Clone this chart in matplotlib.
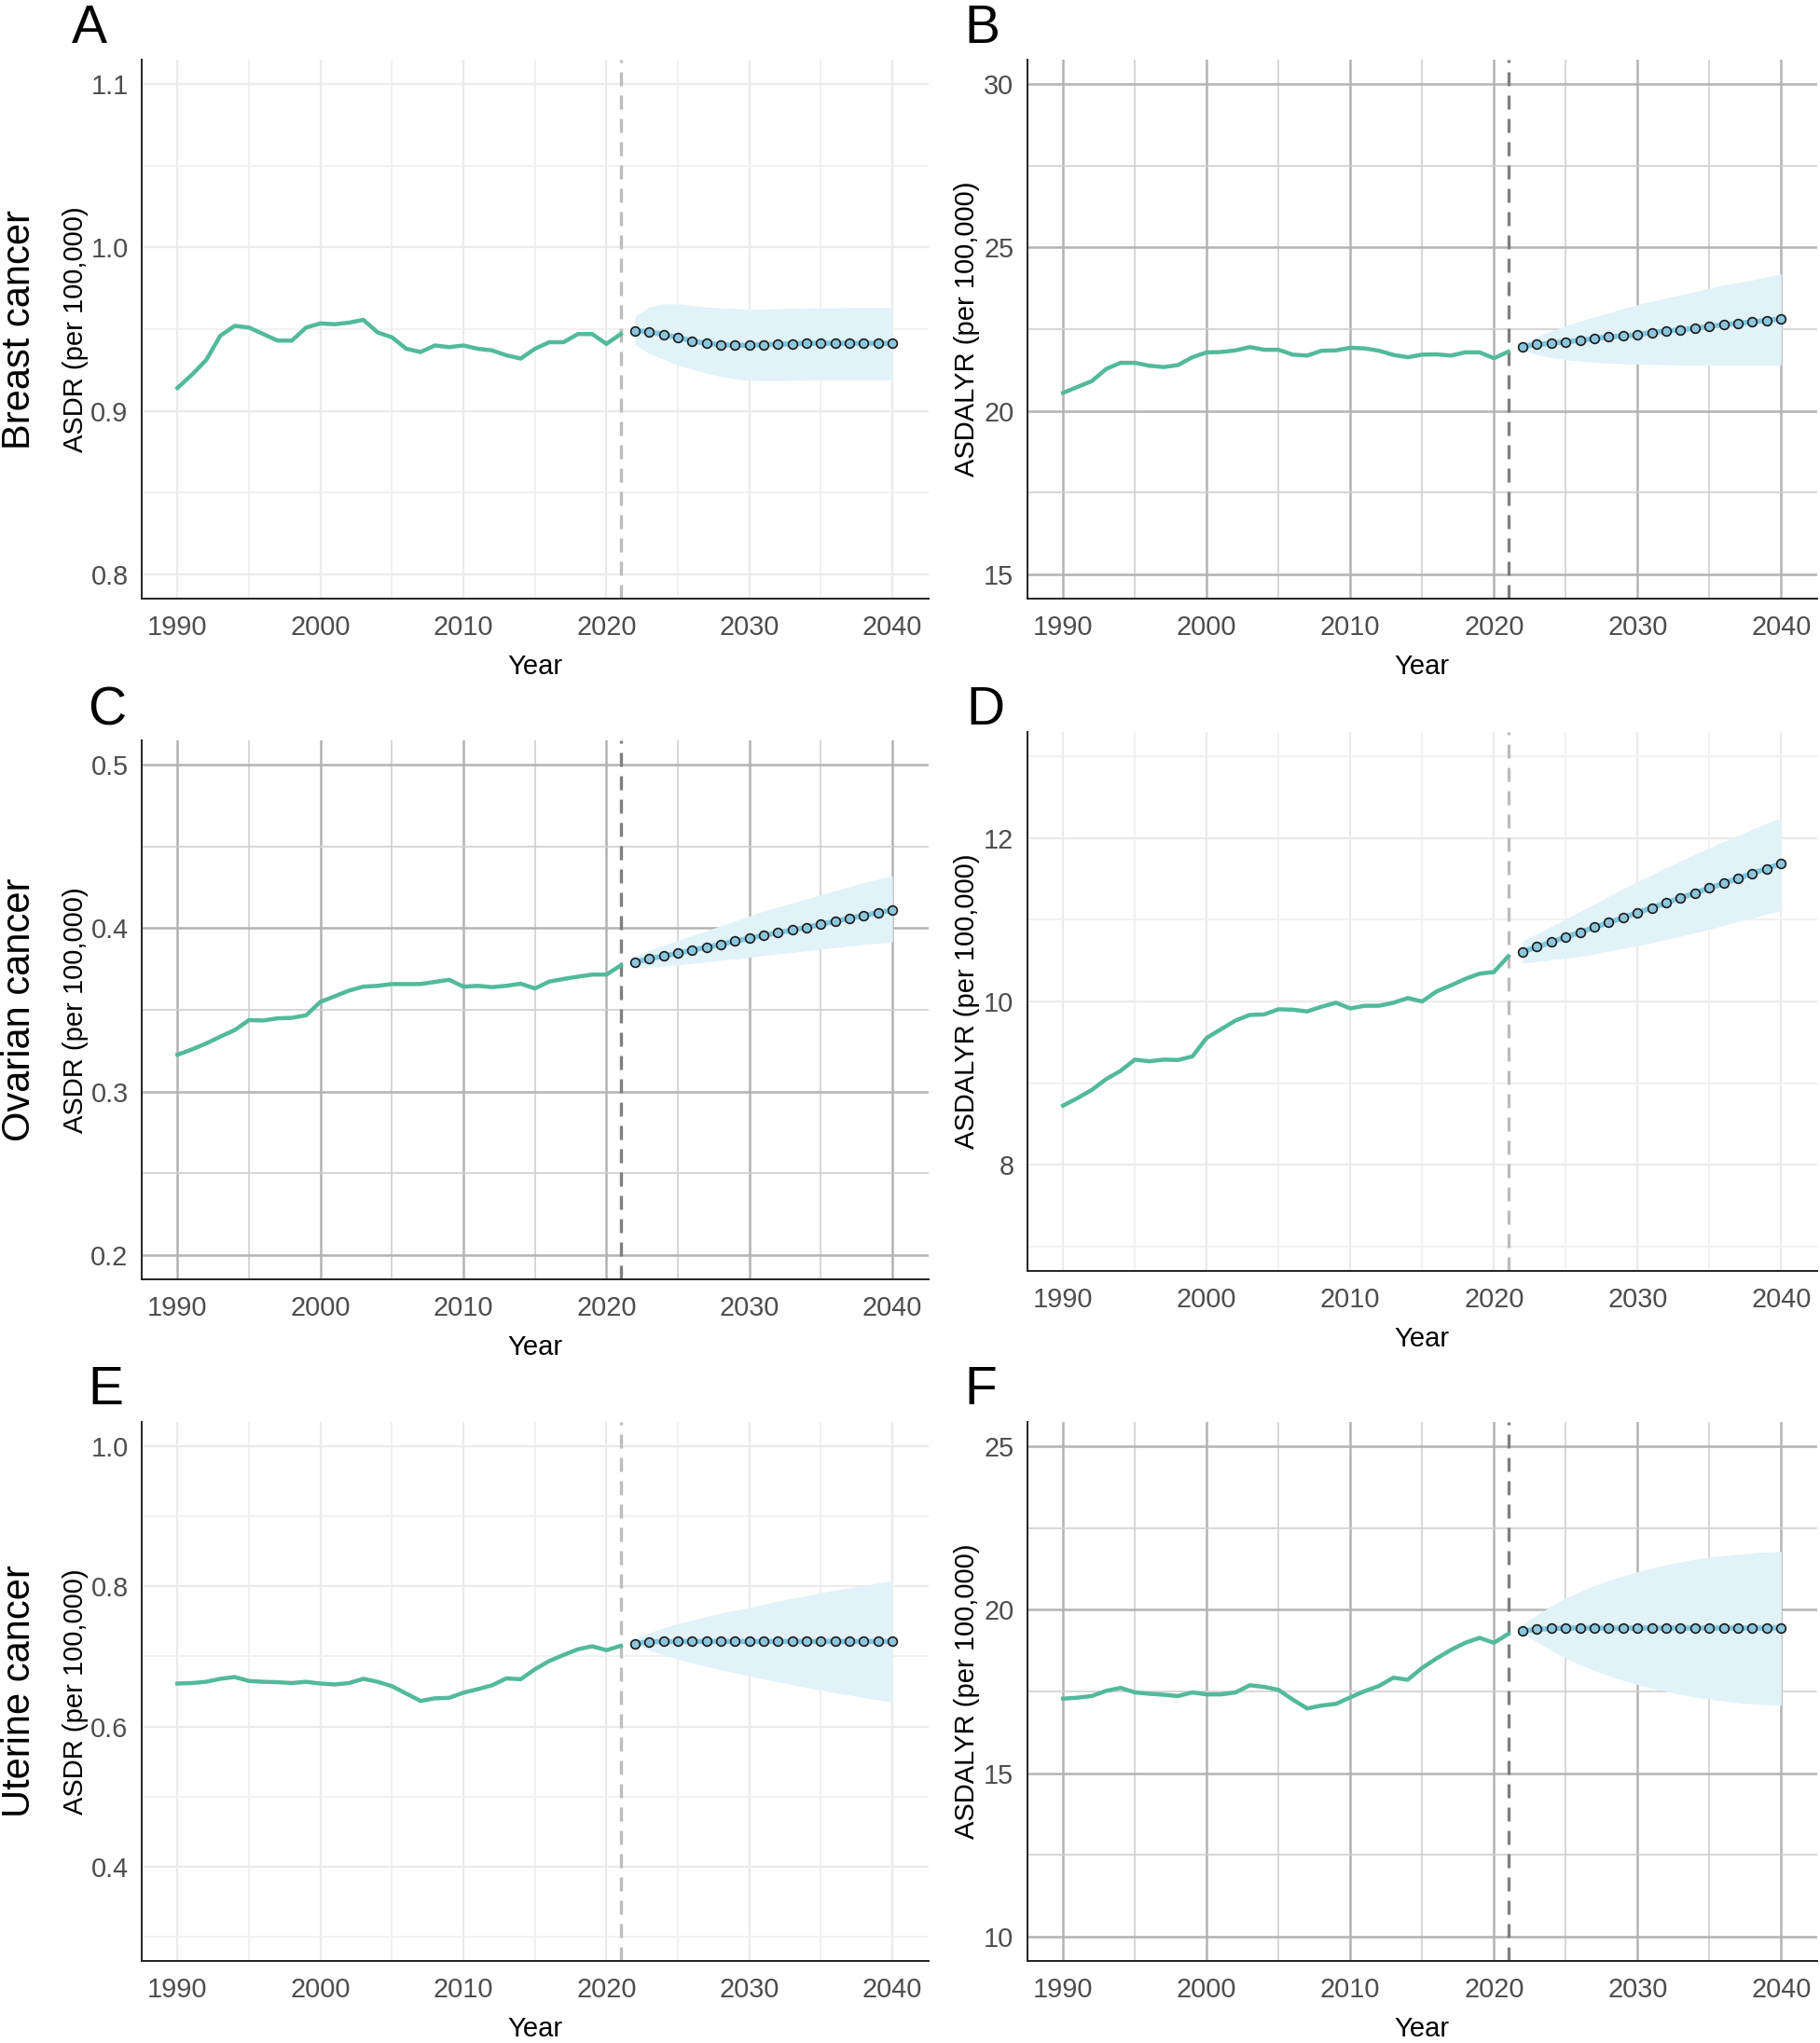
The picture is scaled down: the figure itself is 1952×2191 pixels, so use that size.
import matplotlib
matplotlib.use("Agg")
import matplotlib.pyplot as plt
import numpy as np

plt.rcParams['font.family'] = ['Liberation Sans', 'DejaVu Sans']

# ---------------- data ----------------
hist_years = list(range(1990, 2022))
proj_years = list(range(2022, 2041))

# A: Breast cancer ASDR
a_hist = [0.914, 0.922, 0.931, 0.946, 0.952, 0.951, 0.947, 0.943, 0.943, 0.951,
          0.9535, 0.953, 0.954, 0.9557, 0.948, 0.945, 0.938, 0.936, 0.940, 0.939,
          0.940, 0.938, 0.937, 0.934, 0.932, 0.938, 0.942, 0.942, 0.947, 0.947,
          0.941, 0.947]
a_proj = [0.949, 0.9485, 0.9467, 0.9449, 0.9428, 0.9413, 0.9405, 0.9401, 0.9401, 0.9405,
          0.9407, 0.9411, 0.9413, 0.9413, 0.9413, 0.9413, 0.9413, 0.9413, 0.9413]
a_up = [0.958, 0.9635, 0.9655, 0.9655, 0.9645, 0.9635, 0.963, 0.9625, 0.9622, 0.9622,
        0.9625, 0.9627, 0.963, 0.963, 0.963, 0.9632, 0.9633, 0.9633, 0.9633]
a_lo = [0.9405, 0.935, 0.9315, 0.928, 0.9255, 0.923, 0.921, 0.9195, 0.9187, 0.9185,
        0.9185, 0.9187, 0.919, 0.919, 0.919, 0.919, 0.919, 0.919, 0.919]

# B: Breast cancer ASDALYR
b_hist = [20.55, 20.73, 20.91, 21.28, 21.47, 21.47, 21.38, 21.34, 21.40, 21.64,
          21.79, 21.80, 21.85, 21.95, 21.87, 21.87, 21.72, 21.69, 21.84, 21.85,
          21.93, 21.91, 21.84, 21.71, 21.64, 21.72, 21.73, 21.69, 21.79, 21.79,
          21.61, 21.81]
b_proj = [21.97, 22.03, 22.07, 22.11, 22.16, 22.21, 22.27, 22.29, 22.33, 22.40,
          22.44, 22.48, 22.53, 22.58, 22.64, 22.68, 22.72, 22.77, 22.81]
b_up = [22.1, 22.28, 22.45, 22.6, 22.75, 22.88, 23.0, 23.13, 23.25, 23.35,
        23.45, 23.55, 23.65, 23.75, 23.85, 23.93, 24.0, 24.1, 24.2]
b_lo = [21.85, 21.72, 21.63, 21.57, 21.52, 21.49, 21.46, 21.44, 21.43, 21.42,
        21.41, 21.4, 21.4, 21.4, 21.4, 21.4, 21.4, 21.4, 21.4]

# C: Ovarian cancer ASDR
c_hist = [0.3225, 0.3257, 0.3294, 0.3336, 0.3376, 0.3437, 0.3435, 0.3448, 0.3451, 0.3467,
          0.3549, 0.3583, 0.3618, 0.3642, 0.3647, 0.3658, 0.3658, 0.3658, 0.3671, 0.3684,
          0.3642, 0.3647, 0.3639, 0.3647, 0.3660, 0.3631, 0.3673, 0.3689, 0.3703, 0.3716,
          0.3716, 0.3772]
c_proj = [0.3793, 0.3812, 0.3830, 0.3846, 0.3867, 0.3883, 0.3902, 0.3920, 0.3939, 0.3955,
          0.3973, 0.3989, 0.4005, 0.4024, 0.4042, 0.4061, 0.4077, 0.4096, 0.4111]
c_up = [0.383, 0.3865, 0.3895, 0.3925, 0.3955, 0.3985, 0.4015, 0.4045, 0.4075, 0.4105,
        0.413, 0.4155, 0.418, 0.4205, 0.423, 0.4255, 0.428, 0.430, 0.432]
c_lo = [0.3755, 0.376, 0.3768, 0.3776, 0.3785, 0.3794, 0.3803, 0.3812, 0.3822, 0.3832,
        0.3842, 0.3852, 0.3862, 0.3872, 0.3882, 0.3892, 0.3901, 0.3908, 0.3915]

# D: Ovarian cancer ASDALYR
d_hist = [8.725, 8.816, 8.917, 9.049, 9.15, 9.288, 9.267, 9.288, 9.283, 9.326,
          9.554, 9.66, 9.766, 9.835, 9.841, 9.904, 9.899, 9.878, 9.936, 9.984,
          9.915, 9.947, 9.947, 9.984, 10.042, 10.0, 10.122, 10.196, 10.276, 10.34,
          10.361, 10.552]
d_proj = [10.608, 10.669, 10.727, 10.788, 10.846, 10.908, 10.965, 11.027, 11.088, 11.146,
          11.208, 11.269, 11.327, 11.388, 11.446, 11.508, 11.569, 11.627, 11.688]
d_up = [10.74, 10.83, 10.92, 11.01, 11.1, 11.19, 11.29, 11.38, 11.47, 11.55,
        11.64, 11.72, 11.8, 11.88, 11.96, 12.03, 12.11, 12.18, 12.25]
d_lo = [10.47, 10.49, 10.51, 10.53, 10.55, 10.58, 10.62, 10.65, 10.685, 10.72,
        10.76, 10.8, 10.84, 10.885, 10.93, 10.98, 11.02, 11.07, 11.115]

# E: Uterine cancer ASDR
e_hist = [0.6613, 0.662, 0.6638, 0.6681, 0.6706, 0.665, 0.6638, 0.6632, 0.662, 0.6638,
          0.6613, 0.660, 0.662, 0.6681, 0.6638, 0.6576, 0.647, 0.6365, 0.6402, 0.6409,
          0.6483, 0.6533, 0.6588, 0.6687, 0.6675, 0.6817, 0.6935, 0.7022, 0.7102, 0.7146,
          0.709, 0.7152]
e_proj = [0.7183, 0.7207, 0.7214, 0.7214, 0.7214, 0.7214, 0.7214, 0.7214, 0.7214, 0.7214,
          0.7214, 0.7214, 0.7214, 0.7214, 0.7214, 0.7214, 0.7214, 0.7214, 0.7214]
e_up = [0.726, 0.734, 0.741, 0.747, 0.752, 0.757, 0.762, 0.766, 0.770, 0.775,
        0.779, 0.783, 0.787, 0.791, 0.795, 0.798, 0.801, 0.805, 0.808]
e_lo = [0.717, 0.709, 0.702, 0.696, 0.691, 0.686, 0.681, 0.677, 0.672, 0.668,
        0.664, 0.660, 0.656, 0.652, 0.648, 0.645, 0.641, 0.638, 0.635]

# F: Uterine cancer ASDALYR
f_hist = [17.28, 17.31, 17.36, 17.52, 17.61, 17.47, 17.43, 17.40, 17.36, 17.47,
          17.41, 17.41, 17.47, 17.69, 17.64, 17.55, 17.25, 16.98, 17.07, 17.12,
          17.32, 17.51, 17.67, 17.92, 17.86, 18.22, 18.51, 18.77, 18.99, 19.14,
          18.99, 19.26]
f_proj = [19.35, 19.40, 19.43, 19.44, 19.44, 19.44, 19.44, 19.44, 19.44, 19.44,
          19.44, 19.44, 19.44, 19.44, 19.44, 19.44, 19.44, 19.44, 19.44]
f_up = [19.55, 19.85, 20.12, 20.36, 20.56, 20.74, 20.9, 21.04, 21.17, 21.28,
        21.38, 21.47, 21.55, 21.61, 21.66, 21.7, 21.74, 21.77, 21.79]
f_lo = [19.28, 19.02, 18.76, 18.52, 18.32, 18.14, 17.98, 17.84, 17.71, 17.6,
        17.5, 17.41, 17.33, 17.27, 17.21, 17.16, 17.12, 17.1, 17.08]

x_ticks = [1990, 2000, 2010, 2020, 2030, 2040]
x_minor = [1995, 2005, 2015, 2025, 2035]

panels = [
    # letter, hist, proj, up, lo, ylabel, ylim, yticks, yminor, yfmt, dark, rowlabel
    ("A", a_hist, a_proj, a_up, a_lo, "ASDR (per 100,000)", (0.8, 1.1),
     [0.8, 0.9, 1.0, 1.1], [0.85, 0.95, 1.05], "{:.1f}", False, "Breast cancer"),
    ("B", b_hist, b_proj, b_up, b_lo, "ASDALYR (per 100,000)", (15, 30),
     [15, 20, 25, 30], [17.5, 22.5, 27.5], "{:.0f}", True, None),
    ("C", c_hist, c_proj, c_up, c_lo, "ASDR (per 100,000)", (0.2, 0.5),
     [0.2, 0.3, 0.4, 0.5], [0.25, 0.35, 0.45], "{:.1f}", True, "Ovarian cancer"),
    ("D", d_hist, d_proj, d_up, d_lo, "ASDALYR (per 100,000)", (7, 13),
     [8, 10, 12], [7, 9, 11, 13], "{:.0f}", False, None),
    ("E", e_hist, e_proj, e_up, e_lo, "ASDR (per 100,000)", (0.3, 1.0),
     [0.4, 0.6, 0.8, 1.0], [0.3, 0.5, 0.7, 0.9], "{:.1f}", False, "Uterine cancer"),
    ("F", f_hist, f_proj, f_up, f_lo, "ASDALYR (per 100,000)", (10, 25),
     [10, 15, 20, 25], [12.5, 17.5, 22.5], "{:.0f}", True, None),
]

# ---------------- layout (pixels) ----------------
W, H = 1952, 2191
fig = plt.figure(figsize=(W / 200, H / 200), dpi=200)

col_x = [(152, 995.5), (1101.7, 1948.8)]
rows_y = {"A": (64, 642), "B": (64, 642), "C": (794, 1372), "D": (785, 1363),
          "E": (1525, 2103), "F": (1525, 2103)}
letter_pos = {"A": (77, 46), "B": (1034, 46), "C": (94, 777), "D": (1036, 777),
              "E": (94, 1506), "F": (1034, 1506)}

hist_color = "#52BA9B"
proj_line = "#80C6DE"
proj_face = "#8CC6DC"
band_color = "#E1F2F9"

for i, (letter, hist, proj, up, lo, ylab, ylim, yt, ym, fmt, dark, rowlab) in enumerate(panels):
    col = i % 2
    x0, x1 = col_x[col]
    t, b = rows_y[letter]
    ax = fig.add_axes([x0 / W, 1 - b / H, (x1 - x0) / W, (b - t) / H])

    if dark:
        gmaj, gmin, vcol = "#B3B3B3", "#D0D0D0", "#7F7F7F"
    else:
        gmaj, gmin, vcol = "#EBEBEB", "#EFEFEF", "#BDBDBD"

    ax.set_xlim(1987.5, 2042.5)
    pad = 0.05 * (ylim[1] - ylim[0])
    ax.set_ylim(ylim[0] - pad, ylim[1] + pad)
    ax.set_xticks(x_ticks)
    ax.set_xticks(x_minor, minor=True)
    ax.set_yticks(yt)
    ax.set_yticks(ym, minor=True)
    ax.set_yticklabels([fmt.format(v) for v in yt])
    ax.grid(which="major", color=gmaj, linewidth=0.9 if dark else 0.8, zorder=0)
    ax.grid(which="minor", color=gmin, linewidth=0.6, zorder=0)
    ax.set_axisbelow(True)
    ax.tick_params(which="both", length=0)
    ax.tick_params(axis="x", pad=6.0, labelsize=10.4, labelcolor="#4D4D4D")
    ax.tick_params(axis="y", pad=5.2, labelsize=10.4, labelcolor="#4D4D4D")

    for s in ["top", "right"]:
        ax.spines[s].set_visible(False)
    for s in ["left", "bottom"]:
        ax.spines[s].set_color("#222222")
        ax.spines[s].set_linewidth(0.7)

    ax.fill_between(proj_years, lo, up, color=band_color, linewidth=0, zorder=1)
    ax.axvline(2021, color=vcol, linewidth=1.2, dashes=(4.5, 3.0), zorder=2)
    ax.plot(hist_years, hist, color=hist_color, linewidth=1.6, zorder=3,
            solid_joinstyle="miter")
    ax.plot(proj_years, proj, color=proj_line, linewidth=2.0, zorder=3)
    ax.plot(proj_years, proj, linestyle="none", marker="o", markersize=3.5,
            markerfacecolor=proj_face, markeredgecolor="#1A1A1A",
            markeredgewidth=0.6, zorder=4)

    # axis titles
    ax.text(0.5, -73 / (b - t), "Year", transform=ax.transAxes, ha="center",
            va="center", fontsize=10.5, color="black")
    ylx = (81 - x0) if col == 0 else (1037 - x0)
    ax.text(ylx / (x1 - x0), 0.5, ylab, transform=ax.transAxes, rotation=90,
            ha="center", va="center", fontsize=10.5, color="black")

    lx, ly = letter_pos[letter]
    fig.text(lx / W, 1 - ly / H, letter, fontsize=20.5, ha="left",
             va="baseline", color="black")

    if rowlab:
        fig.text(21 / W, 1 - ((t + b) / 2) / H, rowlab, rotation=90, fontsize=15,
                 ha="center", va="center", color="black")

fig.savefig("out.png", dpi=200, facecolor="white")
